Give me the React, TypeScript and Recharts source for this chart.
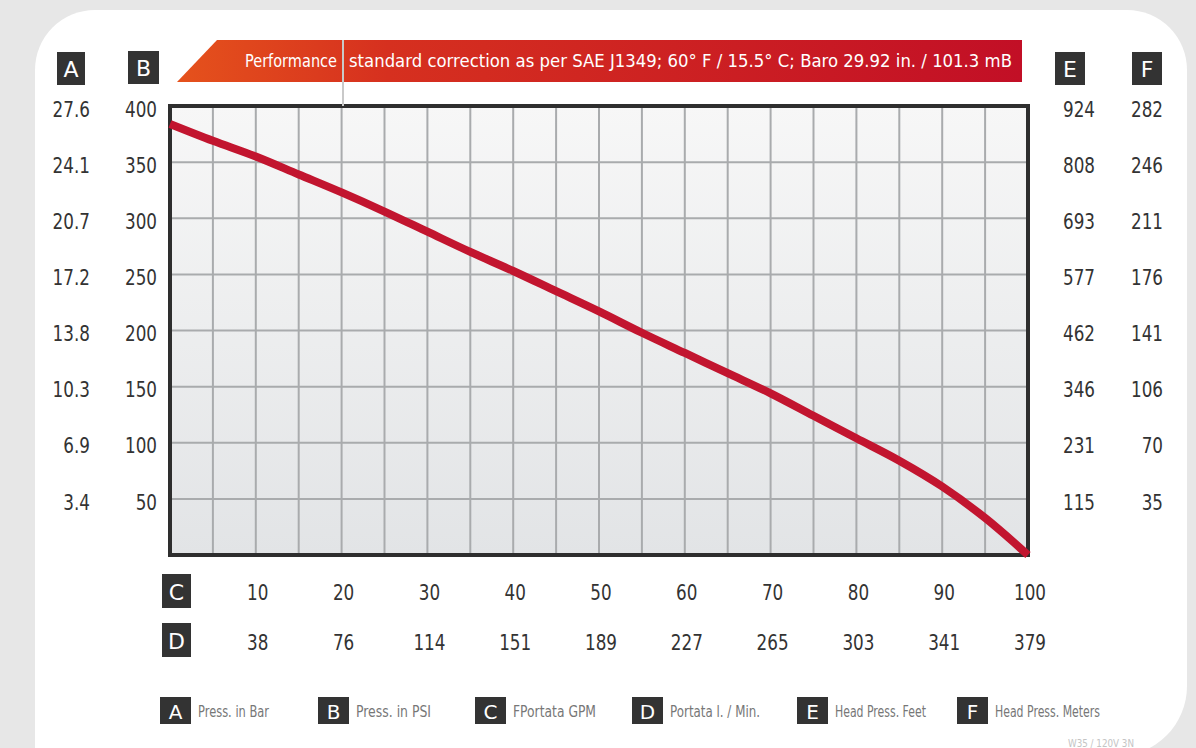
import React from 'react';
import { LineChart, Line, XAxis, YAxis, CartesianGrid, ReferenceArea } from 'recharts';

// pump curve: flow in GPM, pressure in PSI
const gpm = [0, 5, 10, 15, 20, 25, 30, 35, 40, 45, 50, 55, 60, 65, 70, 75, 80, 85, 90, 95, 100];
const psi = [384, 369, 355, 339, 323, 306, 288, 270, 253, 235, 217, 198, 180, 162, 144, 124, 104, 84, 61, 33, 0];

// axis tick values and the printed labels of the other units
const psiTicks = [0, 50, 100, 150, 200, 250, 300, 350, 400];
const barLabels = ['', '3.4', '6.9', '10.3', '13.8', '17.2', '20.7', '24.1', '27.6'];
const feetLabels = ['', '115', '231', '346', '462', '577', '693', '808', '924'];
const meterLabels = ['', '35', '70', '106', '141', '176', '211', '246', '282'];
const gpmTicks = [0, 5, 10, 15, 20, 25, 30, 35, 40, 45, 50, 55, 60, 65, 70, 75, 80, 85, 90, 95, 100];
const lpmLabels: Record<number, string> = {
  10: '38', 20: '76', 30: '114', 40: '151', 50: '189', 60: '227', 70: '265', 80: '303', 90: '341', 100: '379',
};

const legendItems = [
  { key: 'A', label: 'Press. in Bar' },
  { key: 'B', label: 'Press. in PSI' },
  { key: 'C', label: 'FPortata GPM' },
  { key: 'D', label: 'Portata l. / Min.' },
  { key: 'E', label: 'Head Press. Feet' },
  { key: 'F', label: 'Head Press. Meters' },
];

const data = gpm.map((g, i) => ({ gpm: g, psi: psi[i] }));

const FONT = '"DejaVu Sans", sans-serif';
const TXT = '#333';

// narrow the glyphs a bit, the sheet uses a condensed face
const Cond = ({ x, y, anchor, children }: any) => (
  <text transform={`translate(${x},${y}) scale(0.8,1)`} textAnchor={anchor} dominantBaseline="central"
    fontFamily={FONT} fontSize={21} fill={TXT}>{children}</text>
);

const LeftTick = (props: any) => {
  const { x, y, payload } = props;
  const i = psiTicks.indexOf(payload.value);
  if (payload.value === 0) return null;
  return (
    <g>
      <Cond x={x - 80} y={y + 3} anchor="end">{barLabels[i]}</Cond>
      <Cond x={x - 13} y={y + 3} anchor="end">{payload.value}</Cond>
    </g>
  );
};

const RightTick = (props: any) => {
  const { x, y, payload } = props;
  const i = psiTicks.indexOf(payload.value);
  if (payload.value === 0) return null;
  return (
    <g>
      <Cond x={x + 67} y={y + 3} anchor="end">{feetLabels[i]}</Cond>
      <Cond x={x + 135} y={y + 3} anchor="end">{meterLabels[i]}</Cond>
    </g>
  );
};

const BottomTick = (props: any) => {
  const { x, y, payload } = props;
  if (payload.value % 10 !== 0 || payload.value === 0) return null;
  return (
    <g>
      <Cond x={x + 2} y={y + 37} anchor="middle">{payload.value}</Cond>
      <Cond x={x + 2} y={y + 87} anchor="middle">{lpmLabels[payload.value]}</Cond>
    </g>
  );
};

const LetterBox = ({ x, y, w, h, letter, size }: any) => (
  <g>
    <rect x={x} y={y} width={w} height={h} fill="#333" />
    <text x={x + w / 2} y={y + h / 2 + 1} textAnchor="middle" dominantBaseline="central"
      fill="#fff" fontFamily={FONT} fontSize={size}>{letter}</text>
  </g>
);

const legendX = [160, 318, 475, 632, 797, 957];
const legendTextW = [71, 75, 83, 90, 91, 105];

export default function App() {
  return (
    <div style={{ position: 'fixed', left: 0, top: 0, width: 1196, height: 748, background: '#e7e7e7', overflow: 'hidden', fontFamily: FONT }}>
      <div style={{ position: 'absolute', left: 35, top: 10, width: 1152, height: 746, background: '#fff', borderRadius: '60px 60px 70px 0' }} />
      <div style={{ position: 'absolute', left: 0, top: 0 }}>
        <LineChart width={1196} height={748} data={data} margin={{ top: 106, left: 30, right: 18, bottom: 73 }}>
          <defs>
            <linearGradient id="plotBg" x1="0" y1="0" x2="0" y2="1">
              <stop offset="0%" stopColor="#f7f7f7" />
              <stop offset="100%" stopColor="#e2e4e6" />
            </linearGradient>
          </defs>
          <CartesianGrid yAxisId="psi" stroke="#a9abad" strokeWidth={2} fill="url(#plotBg)" fillOpacity={1} />
          <XAxis dataKey="gpm" type="number" domain={[0, 100]} ticks={gpmTicks} height={120}
            tickSize={0} tickMargin={0} axisLine={false} tickLine={false} tick={<BottomTick />} interval={0} />
          <YAxis yAxisId="psi" orientation="left" domain={[0, 400]} ticks={psiTicks} width={140}
            tickSize={0} tickMargin={0} axisLine={false} tickLine={false} tick={<LeftTick />} interval={0} />
          <YAxis yAxisId="head" orientation="right" domain={[0, 400]} ticks={psiTicks} width={150}
            tickSize={0} tickMargin={0} axisLine={false} tickLine={false} tick={<RightTick />} interval={0} />
          <ReferenceArea yAxisId="psi" x1={0} x2={100} y1={0} y2={400} fill="none" stroke="#2e2e2e" strokeWidth={4} />
          {/* same curve on the head axis, invisible, so the right-hand axis gets its scale */}
          <Line yAxisId="head" type="monotone" dataKey="psi" stroke="none" strokeOpacity={0} dot={false} activeDot={false} isAnimationActive={false} />
          <Line yAxisId="psi" type="monotone" dataKey="psi" stroke="#c2152f" strokeWidth={8} dot={false} isAnimationActive={false} />
        </LineChart>
      </div>
      <svg width={1196} height={748} style={{ position: 'absolute', left: 0, top: 0, pointerEvents: 'none' }}>
        <defs>
          <linearGradient id="banner" x1="0" y1="0" x2="1" y2="0">
            <stop offset="0%" stopColor="#e5521c" />
            <stop offset="25%" stopColor="#d6301f" />
            <stop offset="100%" stopColor="#c20f26" />
          </linearGradient>
        </defs>
        <polygon points="217,40 1022,40 1022,82 177,82" fill="url(#banner)" />
        <line x1={343} y1={40} x2={343} y2={106} stroke="#c9c9c9" strokeWidth={2} />
        <text transform="translate(337,61) scale(0.78,1)" textAnchor="end" dominantBaseline="central" fill="#fff"
          fontFamily={FONT} fontSize={18} textLength={118} lengthAdjust="spacingAndGlyphs">Performance</text>
        <text transform="translate(349,61) scale(0.78,1)" dominantBaseline="central" fill="#fff"
          fontFamily={FONT} fontSize={18} textLength={850} lengthAdjust="spacingAndGlyphs">standard correction as per SAE J1349;  60° F / 15.5° C;  Baro 29.92 in. / 101.3 mB</text>

        <LetterBox x={57} y={52} w={28} h={33} letter="A" size={22} />
        <LetterBox x={128} y={51} w={31} h={33} letter="B" size={22} />
        <LetterBox x={1055} y={52} w={30} h={33} letter="E" size={22} />
        <LetterBox x={1132} y={52} w={30} h={33} letter="F" size={22} />
        <LetterBox x={162} y={574} w={29} h={34} letter="C" size={22} />
        <LetterBox x={162} y={623} w={29} h={34} letter="D" size={22} />

        {legendItems.map((it, i) => (
          <g key={it.key}>
            <LetterBox x={legendX[i]} y={697} w={31} h={27} letter={it.key} size={20} />
            <text x={legendX[i] + 38} y={712} dominantBaseline="central" fill="#777" fontFamily={FONT} fontSize={15}
              textLength={legendTextW[i]} lengthAdjust="spacingAndGlyphs">{it.label}</text>
          </g>
        ))}
        <text x={1068} y={743} dominantBaseline="central" fill="#c4c4c4" fontFamily={FONT} fontSize={10}
          textLength={66} lengthAdjust="spacingAndGlyphs">W35 / 120V 3N</text>
      </svg>
    </div>
  );
}
